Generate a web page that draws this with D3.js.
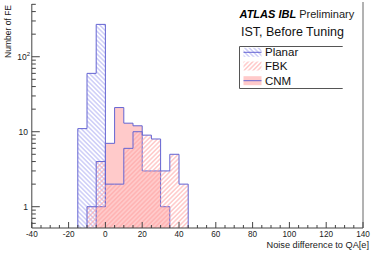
<!DOCTYPE html>
<html><head><meta charset="utf-8">
<script src="https://cdn.jsdelivr.net/npm/d3@7"></script>
<style>body{margin:0;background:#fff;}svg{display:block;font-family:"Liberation Sans",Arial,sans-serif;}</style>
</head><body>
<script>
// ---- data ----
const binStarts = [-15,-10,-5,0,5,10,15,20,25,30,35,40];
const binWidth = 5;
const planar = [11,60,270,0,0,0,0,0,0,0,0,0];
const cnm    = [0,0,1,7,21,13,12,3,3,1,0,0];
const fbk    = [0,1,4,2,2,6,10,9,8,3,5,2];
const xTickLabels = [-40,-20,0,20,40,60,80,100,120,140];
const yTickValues = [1,10,100];
const legendLabels = ["Planar","FBK","CNM"];

const W=374,H=254;
const svg=d3.select("body").append("svg").attr("width",W).attr("height",H);
const x=d3.scaleLinear().domain([-40,140]).range([31.8,363]);
const y=d3.scaleLog().domain([0.52,505]).range([228,4]);
const base=y.range()[0];

const defs=svg.append("defs");
function hatch(id,angle,color,sp,w){
  const p=defs.append("pattern").attr("id",id).attr("patternUnits","userSpaceOnUse")
    .attr("width",sp).attr("height",sp).attr("patternTransform",`rotate(${angle})`);
  p.append("line").attr("x1",sp/2).attr("x2",sp/2).attr("y1",0).attr("y2",sp)
    .attr("stroke",color).attr("stroke-width",w);
}
hatch("hPlanar",-45,"#a8a8f2",3.2,0.85);
hatch("hFBK",45,"#ffa0a0",3.2,0.85);
const lineCol="#6464d2";
defs.append("clipPath").attr("id","clip").append("rect")
  .attr("x",x(-40)).attr("y",y.range()[1]).attr("width",x(140)-x(-40)).attr("height",base-y.range()[1]);

function yv(v){return v>0?y(v):base+2;}
function stepPath(vals){
  let pts=[];
  let first=vals.findIndex(v=>v>0), last=vals.length-1-[...vals].reverse().findIndex(v=>v>0);
  pts.push([x(binStarts[first]),base+2]);
  for(let i=first;i<=last;i++){
    pts.push([x(binStarts[i]),yv(vals[i])]);
    pts.push([x(binStarts[i]+binWidth),yv(vals[i])]);
  }
  pts.push([x(binStarts[last]+binWidth),base+2]);
  return d3.line()(pts);
}
const g=svg.append("g").attr("clip-path","url(#clip)");
function drawHist(vals,fill){
  g.append("path").attr("d",stepPath(vals)).attr("fill",fill).attr("stroke","none");
  g.append("path").attr("d",stepPath(vals)).attr("fill","none").attr("stroke",lineCol).attr("stroke-width",1);
}
drawHist(planar,"url(#hPlanar)");
drawHist(cnm,"#ffcaca");
drawHist(fbk,"url(#hFBK)");

// ---- axes ----
const ax=svg.append("g").attr("stroke","#444").attr("stroke-width",1).attr("fill","none");
ax.append("line").attr("x1",x(-40)).attr("x2",x(-40)).attr("y1",4).attr("y2",base);
ax.append("line").attr("x1",x(-40)).attr("x2",x(140)).attr("y1",base).attr("y2",base);
ax.append("line").attr("x1",x(140)).attr("x2",x(140)).attr("y1",2).attr("y2",base).attr("stroke","#666");

// x ticks
for(let v=-40;v<=140;v+=5){
  const maj=(v%20===0);
  ax.append("line").attr("x1",x(v)).attr("x2",x(v)).attr("y1",base).attr("y2",base-(maj?6:3));
}
svg.selectAll(".xl").data(xTickLabels).enter().append("text")
  .attr("x",d=>x(d)).attr("y",237).attr("text-anchor","middle")
  .attr("font-size",8.2).attr("fill","#222").text(d=>d);
// y ticks
const minors=[];
[0.1,1,10,100].forEach(dec=>{for(let k=2;k<=9;k++){const v=dec*k;if(v>=0.52&&v<=505)minors.push(v);}});
minors.forEach(v=>ax.append("line").attr("x1",x(-40)).attr("x2",x(-40)+4).attr("y1",y(v)).attr("y2",y(v)));
yTickValues.forEach(v=>ax.append("line").attr("x1",x(-40)).attr("x2",x(-40)+8).attr("y1",y(v)).attr("y2",y(v)));
const yl=svg.append("g").attr("font-size",8.5).attr("fill","#222").attr("text-anchor","end");
yl.append("text").attr("x",28).attr("y",y(1)+3).text("1");
yl.append("text").attr("x",28).attr("y",y(10)+3).text("10");
const t100=yl.append("text").attr("x",30).attr("y",y(100)+3);
t100.append("tspan").text("10");
t100.append("tspan").attr("font-size",6).attr("dy",-3.5).text("2");

// titles
svg.append("text").attr("transform","translate(11,5) rotate(-90)").attr("text-anchor","end")
  .attr("font-size",8.5).attr("fill","#222").text("Number of FE");
svg.append("text").attr("x",369).attr("y",248).attr("text-anchor","end")
  .attr("font-size",9.2).attr("fill","#222").text("Noise difference to QA[e]");

const at=svg.append("text").attr("x",239.5).attr("y",18).attr("font-size",11).attr("fill","#000");
at.append("tspan").attr("font-weight","bold").attr("font-style","italic").text("ATLAS IBL");
at.append("tspan").attr("fill","#222").text(" Preliminary");
svg.append("text").attr("x",241).attr("y",36).attr("font-size",12.5).attr("fill","#111").text("IST, Before Tuning");

// legend
const lg=svg.append("g");
lg.append("path").attr("d","M342.7,46.5 H239.5 V88.5 H342.7").attr("fill","none").attr("stroke","#555").attr("stroke-width",1);
const ly=[52.3,66,80.7];
const lfill=["url(#hPlanar)","url(#hFBK)","#ffcaca"];
legendLabels.forEach((lab,i)=>{
  lg.append("rect").attr("x",243.5).attr("y",ly[i]-4.5).attr("width",18).attr("height",9).attr("fill",lfill[i]);
  if(i!==1) lg.append("line").attr("x1",243.5).attr("x2",261.5).attr("y1",ly[i]).attr("y2",ly[i]).attr("stroke",lineCol).attr("stroke-width",1);
  lg.append("text").attr("x",265).attr("y",ly[i]+4).attr("font-size",11.5).attr("fill","#111").text(lab);
});
</script>
</body></html>
